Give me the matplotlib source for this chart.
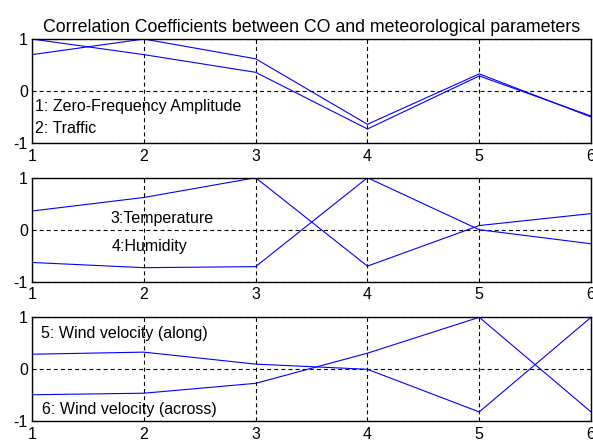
import matplotlib
matplotlib.use("Agg")
import matplotlib.pyplot as plt

plt.rcParams["font.family"] = ["Liberation Sans", "DejaVu Sans"]
plt.rcParams["font.size"] = 11.5

x = [1, 2, 3, 4, 5, 6]

# panel 1
zero_freq = [1.0, 0.70, 0.36, -0.73, 0.29, -0.48]
traffic   = [0.70, 1.0, 0.62, -0.64, 0.33, -0.50]
# panel 2
temperature = [0.36, 0.62, 1.0, -0.70, 0.08, 0.31]
humidity    = [-0.63, -0.73, -0.71, 1.0, 0.0, -0.27]
# panel 3
wind_along  = [0.29, 0.33, 0.10, 0.0, -0.82, 1.0]
wind_across = [-0.49, -0.46, -0.27, 0.31, 1.0, -0.82]

title = "Correlation Coefficients between CO and meteorological parameters"
xticks = [1, 2, 3, 4, 5, 6]
yticks = [-1, 0, 1]

panels = [
    (zero_freq, traffic, [("1: Zero-Frequency Amplitude", 1.03, -0.29), ("2: Traffic", 1.03, -0.72)]),
    (temperature, humidity, [("3:Temperature", 1.70, 0.225), ("4:Humidity", 1.71, -0.33)]),
    (wind_along, wind_across, [("5: Wind velocity (along)", 1.08, 0.68), ("6: Wind velocity (across)", 1.09, -0.78)]),
]

fig = plt.figure(figsize=(5.93, 4.41), dpi=100)
left, width, height = 0.054, 0.9427, 0.2358
bottoms = [0.6757, 0.3612, 0.0447]

for i, (a, b, labels) in enumerate(panels):
    ax = fig.add_axes([left, bottoms[i], width, height])
    ax.plot(x, a, color="#0000ff", lw=0.8)
    ax.plot(x, b, color="#0000ff", lw=0.8)
    ax.set_xlim(1, 6)
    ax.set_ylim(-1, 1)
    ax.set_xticks(xticks)
    ax.set_yticks(yticks)
    ax.set_yticklabels([str(t) for t in yticks])
    ax.grid(True, color="black", linestyle=(0, (3.6, 2.8)), linewidth=0.8)
    ax.tick_params(direction="in", length=3, width=0.6, labelsize=11.5)
    ax.tick_params(axis="x", pad=4)
    ax.tick_params(axis="y", pad=3)
    for s in ax.spines.values():
        s.set_linewidth(1.0)
    for txt, tx, ty in labels:
        ax.text(tx, ty, txt, fontsize=11.5, va="center", ha="left")
    if i == 0:
        ax.set_title(title, fontsize=12.8, pad=5)

fig.savefig("out.png", dpi=100)
